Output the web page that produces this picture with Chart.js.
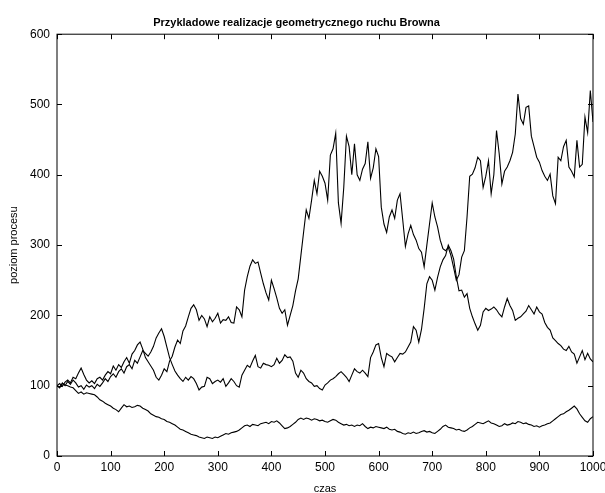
<!DOCTYPE html>
<html>
<head>
<meta charset="utf-8">
<script src="https://cdn.jsdelivr.net/npm/chart.js@4.4.0/dist/chart.umd.min.js"></script>
<style>
  html, body { margin: 0; padding: 0; background: #fff; }
  #wrap { width: 605px; height: 493px; position: relative; }
</style>
</head>
<body>
<div id="wrap"><canvas id="gbm"></canvas></div>
<script>
// time grid of the sampled paths (every 5 steps, 0..1000)
const czas = Array.from({ length: 201 }, (_, i) => i * 5);

// path that ends highest
const sciezka1 = [
    100, 103, 99, 105, 108, 104, 112, 110, 118, 125, 116, 108, 104, 107, 103, 110, 112, 108, 115, 120,
    117, 128, 122, 130, 126, 134, 140, 132, 145, 150, 158, 162, 152, 140, 134, 128, 122, 112, 108, 115,
    124, 120, 135, 142, 155, 165, 160, 178, 185, 198, 210, 215, 208, 193, 200, 195, 184, 198, 191, 196,
    203, 189, 194, 193, 198, 190, 189, 212, 208, 198, 236, 255, 270, 279, 274, 276, 260, 245, 232, 222,
    250, 238, 225, 210, 203, 208, 186, 200, 214, 235, 252, 285, 318, 350, 338, 364, 392, 373, 405, 398,
    388, 364, 428, 437, 459, 360, 331, 382, 455, 440, 400, 444, 400, 392, 408, 416, 447, 395, 410, 437,
    426, 354, 330, 318, 340, 350, 338, 364, 373, 336, 298, 316, 328, 315, 307, 295, 290, 269, 300, 330,
    360, 340, 326, 307, 295, 292, 297, 285, 268, 250, 258, 283, 292, 340, 398, 401, 410, 425, 420, 382,
    398, 420, 373, 400, 463, 430, 387, 405, 411, 420, 432, 458, 515, 480, 472, 496, 498, 455, 440, 425,
    418, 406, 398, 392, 401, 370, 359, 425, 420, 440, 449, 411, 405, 397, 449, 411, 415, 482, 460, 520,
    475
];

// middle path
const sciezka2 = [
    100, 97, 104, 100, 106, 102, 108, 104, 98, 100, 95, 101, 98, 100, 96, 102, 99, 104, 110, 106,
    113, 117, 112, 120, 124, 118, 127, 130, 124, 136, 132, 141, 150, 146, 142, 148, 156, 168, 175, 181,
    170, 155, 140, 130, 121, 115, 110, 106, 112, 108, 113, 110, 103, 94, 98, 99, 112, 110, 103, 106,
    108, 105, 110, 99, 104, 110, 106, 100, 98, 115, 122, 129, 126, 135, 143, 127, 125, 132, 130, 129,
    127, 130, 139, 132, 136, 144, 140, 141, 135, 118, 112, 122, 118, 110, 106, 104, 99, 100, 96, 94,
    101, 104, 108, 110, 113, 117, 120, 116, 112, 106, 115, 124, 120, 118, 122, 118, 113, 140, 148, 158,
    160, 140, 127, 146, 143, 141, 134, 140, 146, 145, 148, 155, 162, 184, 179, 162, 180, 210, 245, 255,
    250, 236, 254, 269, 279, 285, 300, 292, 280, 255, 235, 236, 226, 231, 210, 198, 188, 179, 186, 205,
    210, 207, 209, 212, 208, 202, 198, 212, 224, 214, 207, 193, 196, 198, 202, 206, 214, 208, 202, 212,
    205, 202, 190, 183, 179, 168, 164, 160, 157, 152, 150, 156, 148, 145, 132, 141, 150, 137, 146, 138,
    134
];

// lowest path
const sciezka3 = [
    100, 98, 103, 101, 100, 98, 97, 93, 89, 91, 88, 90, 89, 88, 87, 84, 80, 78, 75, 73,
    71, 68, 66, 63, 68, 73, 70, 71, 69, 70, 72, 71, 68, 66, 64, 60, 58, 56, 55, 53,
    52, 49, 48, 46, 44, 41, 38, 37, 35, 33, 31, 30, 29, 27, 26, 25, 27, 26, 25, 27,
    26, 28, 30, 32, 31, 33, 34, 35, 37, 40, 43, 44, 42, 45, 44, 43, 46, 47, 48, 46,
    49, 48, 50, 47, 43, 39, 40, 42, 45, 48, 52, 54, 52, 54, 53, 51, 53, 52, 50, 51,
    49, 48, 50, 52, 51, 48, 46, 44, 45, 43, 44, 42, 44, 43, 46, 42, 39, 41, 40, 42,
    41, 40, 39, 41, 38, 37, 38, 35, 34, 32, 31, 33, 32, 34, 32, 33, 35, 36, 34, 35,
    33, 32, 35, 38, 42, 44, 41, 40, 39, 37, 38, 36, 35, 37, 40, 42, 45, 48, 47, 46,
    48, 50, 47, 46, 44, 42, 43, 46, 44, 45, 47, 46, 49, 48, 46, 47, 45, 44, 42, 43,
    41, 43, 44, 46, 47, 50, 53, 56, 59, 60, 63, 65, 68, 71, 67, 60, 55, 50, 48, 53,
    56
];

const FONT = "'Liberation Sans', Arial, Helvetica, sans-serif";

// Matlab-like frame with inward tick marks on all four sides
const ramka = {
    id: "ramka",
    afterDatasetsDraw(chart) {
        const { ctx, chartArea: a, scales } = chart;
        const len = 5;
        ctx.save();
        ctx.strokeStyle = "#000";
        ctx.lineWidth = 1;
        ctx.strokeRect(a.left, a.top, a.right - a.left, a.bottom - a.top);
        ctx.beginPath();
        scales.x.ticks.forEach((t) => {
            const px = Math.round(scales.x.getPixelForValue(t.value)) + 0.5;
            ctx.moveTo(px, a.bottom);
            ctx.lineTo(px, a.bottom - len);
            ctx.moveTo(px, a.top);
            ctx.lineTo(px, a.top + len);
        });
        scales.y.ticks.forEach((t) => {
            const py = Math.round(scales.y.getPixelForValue(t.value)) + 0.5;
            ctx.moveTo(a.left, py);
            ctx.lineTo(a.left + len, py);
            ctx.moveTo(a.right, py);
            ctx.lineTo(a.right - len, py);
        });
        ctx.stroke();
        ctx.restore();
    },
};

const linia = (dane) => ({
    data: dane.map((v, i) => ({ x: czas[i], y: v })),
    borderColor: "#000",
    borderWidth: 1.1,
    pointRadius: 0,
    tension: 0,
    fill: false,
});

new Chart(document.getElementById("gbm"), {
    type: "line",
    data: {
        datasets: [linia(sciezka1), linia(sciezka2), linia(sciezka3)],
    },
    options: {
        responsive: true,
        maintainAspectRatio: false,
        animation: false,
        layout: { padding: { top: 0, right: 12, bottom: 0, left: 0 } },
        plugins: {
            legend: { display: false },
            tooltip: { enabled: false },
            title: {
                display: true,
                text: "Przykladowe realizacje geometrycznego ruchu Browna",
                color: "#000",
                font: { family: FONT, size: 11, weight: "bold" },
                padding: { top: 16, bottom: 5 },
            },
        },
        scales: {
            x: {
                type: "linear",
                min: 0,
                max: 1000,
                grid: { display: false, drawTicks: false },
                border: { display: false },
                ticks: {
                    stepSize: 100,
                    maxRotation: 0,
                    padding: 4,
                    color: "#000",
                    font: { family: FONT, size: 12 },
                    callback: (v) => String(v),
                },
                title: {
                    display: true,
                    text: "czas",
                    color: "#000",
                    font: { family: FONT, size: 11 },
                    padding: { top: 0, bottom: -3 },
                },
                afterFit(scale) {
                    scale.height = 37;
                    scale.paddingLeft = 0;
                    scale.paddingRight = 0;
                },
            },
            y: {
                min: 0,
                max: 600,
                grid: { display: false, drawTicks: false },
                border: { display: false },
                ticks: {
                    stepSize: 100,
                    padding: 7,
                    color: "#000",
                    font: { family: FONT, size: 12 },
                    callback: (v) => String(v),
                },
                title: {
                    display: true,
                    text: "poziom procesu",
                    color: "#000",
                    font: { family: FONT, size: 11 },
                    padding: { top: 7, bottom: 0 },
                },
                afterFit(scale) {
                    scale.width = 57;
                    scale.paddingTop = 0;
                    scale.paddingBottom = 0;
                },
            },
        },
    },
    plugins: [ramka],
});
</script>
</body>
</html>
